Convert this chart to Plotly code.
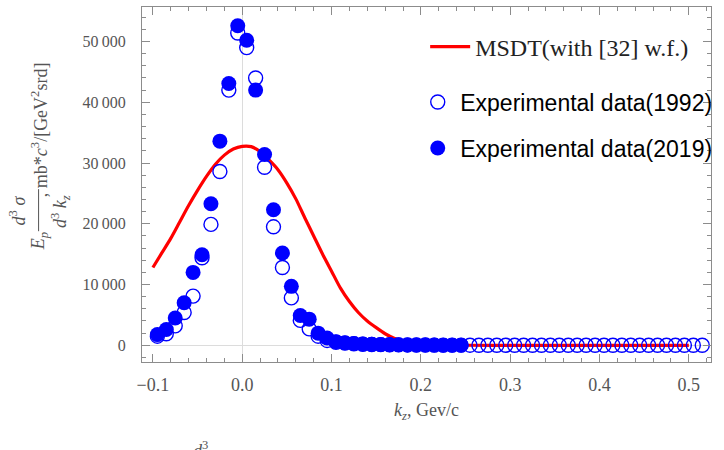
import plotly.graph_objects as go
import numpy as np

# ---------------- data ----------------
kz_1992 = [-0.095, -0.085, -0.075, -0.065, -0.055, -0.045, -0.035, -0.025, -0.015, -0.005,
           0.005, 0.015, 0.025, 0.035, 0.045, 0.055, 0.065, 0.075, 0.085, 0.095,
           0.105, 0.115, 0.125, 0.135, 0.145, 0.155, 0.165, 0.175, 0.185, 0.195,
           0.205, 0.215, 0.225, 0.235, 0.245, 0.255, 0.265, 0.275, 0.285, 0.295,
           0.305, 0.315, 0.325, 0.335, 0.345, 0.355, 0.365, 0.375, 0.385, 0.395,
           0.405, 0.415, 0.425, 0.435, 0.445, 0.455, 0.465, 0.475, 0.485, 0.495,
           0.505, 0.515]
xs_1992 = [1500, 1900, 3200, 5400, 8100, 14400, 19900, 28600, 42000, 51400,
           49000, 44000, 29300, 19500, 12800, 7800, 4100, 2700, 1500, 800,
           500, 350, 250, 180, 140, 110, 90, 70, 60, 50,
           40, 35, 30, 25, 20, 18, 15, 13, 11, 10,
           9, 8, 7, 6, 6, 5, 5, 4, 4, 4,
           3, 3, 3, 2, 2, 2, 2, 1, 1, 1,
           1, 1]

kz_2019 = [-0.095, -0.085, -0.075, -0.065, -0.055, -0.045, -0.035, -0.025, -0.015, -0.005,
           0.005, 0.015, 0.025, 0.035, 0.045, 0.055, 0.065, 0.075, 0.085, 0.095,
           0.105, 0.115, 0.125, 0.135, 0.145, 0.155, 0.165, 0.175, 0.185, 0.195,
           0.205, 0.215, 0.225, 0.235, 0.245]
xs_2019 = [1760, 2600, 4500, 7000, 12000, 14900, 23300, 33600, 43100, 52600,
           50200, 42000, 31400, 22300, 15200, 9700, 4900, 4300, 2000, 1200,
           600, 400, 300, 220, 170, 130, 100, 80, 60, 50,
           40, 30, 25, 20, 15]

kz_msdt = [-0.10, -0.09, -0.08, -0.07, -0.06, -0.05, -0.04, -0.03, -0.02, -0.01,
           0.00, 0.01, 0.02, 0.03, 0.04, 0.05, 0.06, 0.07, 0.08, 0.09,
           0.10, 0.11, 0.12, 0.13, 0.14, 0.15, 0.16, 0.17, 0.18, 0.19,
           0.20, 0.22, 0.25, 0.30, 0.40, 0.50]
xs_msdt = [12800, 15200, 17600, 20300, 23000, 25500, 27800, 29800, 31300, 32300,
           32750, 32700, 31900, 30500, 28900, 26700, 24100, 21000, 18000, 15000,
           12200, 9400, 7200, 5400, 4000, 2900, 1900, 1150, 650, 330,
           160, 40, 5, 0, 0, 0]

x_tick_vals = [-0.1, 0.0, 0.1, 0.2, 0.3, 0.4, 0.5]
x_tick_text = ["\u22120.1", "0.0", "0.1", "0.2", "0.3", "0.4", "0.5"]
y_tick_vals = [0, 10000, 20000, 30000, 40000, 50000]
y_tick_text = ["0", "10\u2009000", "20\u2009000", "30\u2009000", "40\u2009000", "50\u2009000"]

# ---------------- layout geometry ----------------
W, H = 724, 450
L, R, T, B = 141.7, 715.0, 7.0, 361.7


def px(xp):
    return (xp - L) / (R - L)


def py(yp):
    return (B - yp) / (B - T)


BLUE = "#0000FF"
RED = "#FF0000"
GRAY = "#555555"
FRAME = "#8c8c8c"

fig = go.Figure()
fig.add_trace(go.Scatter(
    x=kz_msdt, y=xs_msdt, mode="lines", name="MSDT(with [32] w.f.)",
    line=dict(color=RED, width=3.2, shape="spline", smoothing=0.8),
    legend="legend", showlegend=True))
fig.add_trace(go.Scatter(
    x=kz_1992, y=xs_1992, mode="markers", name="Experimental data(1992)",
    marker=dict(symbol="circle-open", size=14, color=BLUE, line=dict(width=1.4, color=BLUE)),
    legend="legend2", showlegend=True))
fig.add_trace(go.Scatter(
    x=kz_2019, y=xs_2019, mode="markers", name="Experimental data(2019)",
    marker=dict(symbol="circle", size=15, color=BLUE, line=dict(width=0)),
    legend="legend3", showlegend=True))

x_minor = [v for v in np.round(np.arange(-0.10, 0.53, 0.02), 3)]
y_minor = [v for v in range(-2000, 56000, 2000)]

axis_common = dict(
    showline=True, linecolor=FRAME, linewidth=1, mirror="allticks",
    ticks="inside", tickcolor=FRAME, tickwidth=1, ticklen=8,
    showgrid=False, zeroline=True, zerolinecolor="#dcdcdc", zerolinewidth=1,
)

fig.update_layout(
    width=W, height=H, showlegend=True,
    margin=dict(l=L, r=W - R, t=T, b=H - B),
    paper_bgcolor="white", plot_bgcolor="white",
    xaxis=dict(range=[-0.1122, 0.5248], tickmode="array", tickvals=x_tick_vals,
               ticktext=x_tick_text,
               tickfont=dict(family="Liberation Serif", size=18, color=GRAY),
               minor=dict(tickmode="array", tickvals=x_minor, ticks="inside",
                          ticklen=4, tickcolor=FRAME, showgrid=False),
               ticklabelstandoff=6, **axis_common),
    yaxis=dict(range=[-2750, 55680], tickmode="array", tickvals=y_tick_vals,
               ticktext=y_tick_text,
               tickfont=dict(family="Liberation Serif", size=16, color=GRAY),
               minor=dict(tickmode="array", tickvals=y_minor, ticks="inside",
                          ticklen=4, tickcolor=FRAME, showgrid=False),
               ticklabelstandoff=12, **axis_common),
    legend=dict(x=px(427), y=py(47), xanchor="left", yanchor="middle",
                bgcolor="rgba(0,0,0,0)", itemwidth=40, visible=True,
                font=dict(family="Liberation Serif", size=24, color="#222222")),
    legend2=dict(x=px(417), y=py(102), xanchor="left", yanchor="middle",
                 bgcolor="rgba(0,0,0,0)", itemwidth=35,
                 font=dict(family="Liberation Sans", size=23, color="black")),
    legend3=dict(x=px(417), y=py(148), xanchor="left", yanchor="middle",
                 bgcolor="rgba(0,0,0,0)", itemwidth=35,
                 font=dict(family="Liberation Sans", size=23, color="black")),
)

lab_font = dict(family="Liberation Serif", size=18, color=GRAY)
annots = [
    # x axis title
    dict(x=px(428), y=py(411), text="<i>k<sub>z</sub></i>, Gev/c", textangle=0),
    # y axis title pieces (rotated)
    dict(x=px(38), y=py(241), text="<i>E<sub>p</sub></i>", textangle=-90),
    dict(x=px(16), y=py(210), text="<i>d</i><sup>3</sup> <i>\u03c3</i>", textangle=-90),
    dict(x=px(59), y=py(211), text="<i>d</i><sup>3</sup> <i>k<sub>z</sub></i>", textangle=-90),
    dict(x=px(38), y=py(130), text=", mb*<i>c</i><sup>3</sup>/[GeV<sup>2</sup>srd]", textangle=-90),
    # partially visible glyph at the bottom edge
    dict(x=px(201), y=py(436), text="<i>d</i><sup>3</sup>", textangle=0, yanchor="top"),
]
for a in annots:
    fig.add_annotation(xref="paper", yref="paper", showarrow=False,
                       xanchor="center", yanchor=a.pop("yanchor", "middle"),
                       font=lab_font, **a)

fig.add_shape(type="line", xref="paper", yref="paper",
              x0=px(37.5), x1=px(37.5), y0=py(189), y1=py(231),
              line=dict(color=GRAY, width=1))

fig.write_html("out.html")
